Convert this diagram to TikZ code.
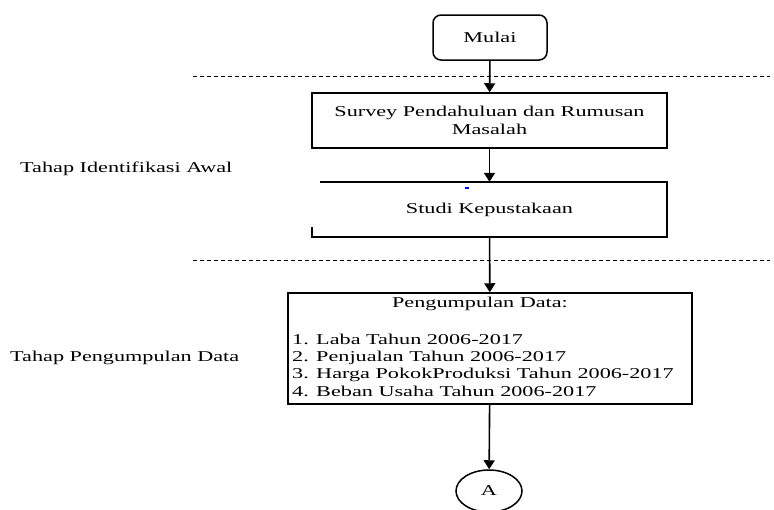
\documentclass[tikz,border=0pt]{standalone}
\usepackage{fontspec}
\setmainfont{Liberation Serif}[FakeStretch=1.48]
\usepackage{tikz}
\usetikzlibrary{arrows.meta, shapes.geometric, positioning}

\begin{document}
\begin{tikzpicture}[x=1pt, y=-1pt,
    every node/.style={font=\fontsize{15}{17.3}\selectfont, inner sep=0pt},
    startbox/.style={draw, line width=1.5pt, rounded corners=8pt, minimum width=114pt, minimum height=45pt},
    procbox/.style={draw, line width=1.5pt, minimum width=355pt, minimum height=55pt, align=center},
    databox/.style={draw, line width=1.5pt, minimum width=404pt, minimum height=111pt},
    konektor/.style={draw, ellipse, line width=1.5pt, minimum width=66pt, minimum height=42pt},
    flow/.style={line width=1.6pt, -{Triangle[length=9pt,width=11pt]}},
    batas/.style={line width=0.9pt, dash pattern=on 4pt off 3pt}]
\useasboundingbox (0,0) rectangle (774,509);

% batas tahap
\draw [batas] (193,76) -- (770,76);
\draw [batas] (193,260) -- (770,260);

\node [anchor=west] (tahapawal) at (20,169) {Tahap Identifikasi Awal};
\node [anchor=west] (tahapdata) at (10,358) {Tahap Pengumpulan Data};

\node [startbox] (mulai) at (490,37.5) {Mulai};
\node [procbox] (survey) at (489.5,120.5) {Survey Pendahuluan dan Rumusan\\Masalah};

\node [minimum width=355pt, minimum height=55pt] (studi) at (489.5,209.5) {Studi Kepustakaan};
\draw [line width=1.5pt] ([xshift=8pt]studi.north west) -- (studi.north east) -- (studi.south east) -- (studi.south west) -- ++(0,-10);
\fill [blue] (465,186.5) rectangle (469,188.5);

\node [databox] (data) at (490,348.5) {};
\node [anchor=base] (judul) at (480,307) {Pengumpulan Data:};
\node [anchor=north west, align=left] (daftar) at (292,333.5) {1. Laba Tahun 2006-2017\\2. Penjualan Tahun 2006-2017\\3. Harga PokokProduksi Tahun 2006-2017\\4. Beban Usaha Tahun 2006-2017};

\node [konektor] (a) at (489,491) {A};

\draw [flow] (mulai) -- (survey);
\draw [flow] (survey) -- (studi);
\draw [flow] (studi) -- (data);
\draw [flow] (data) -- (a);
\end{tikzpicture}
\end{document}
